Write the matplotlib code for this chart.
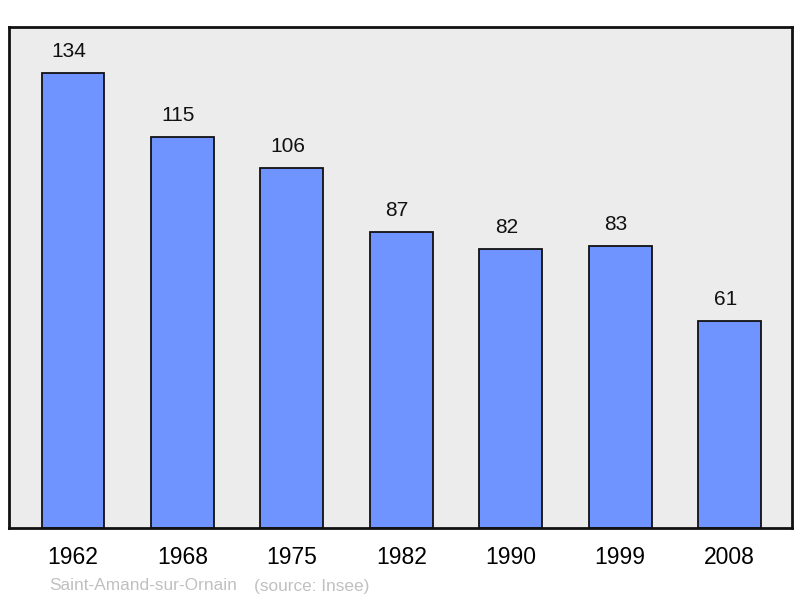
import matplotlib
matplotlib.use("Agg")
import matplotlib.pyplot as plt

years = ["1962", "1968", "1975", "1982", "1990", "1999", "2008"]
population = [134, 115, 106, 87, 82, 83, 61]
commune = "Saint-Amand-sur-Ornain"
source = "(source: Insee)"

plt.rcParams['font.family'] = ['Liberation Sans', 'DejaVu Sans']

fig = plt.figure(figsize=(8, 5.98), dpi=100)
ax = fig.add_axes([9/800, 1-528/598, 783/800, 501/598])
ax.set_facecolor('#ececec')
x = list(range(len(years)))
ax.bar(x, population, width=0.575, color='#7094ff', edgecolor='#111111', linewidth=1.3, zorder=2)
for xi, v in zip(x, population):
    ax.annotate(str(v), (xi, v), xytext=(-3, 15.5), textcoords='offset points',
                ha='center', va='center', fontsize=15, color='#111111')
ax.set_xlim(-0.585, 6.57)
ax.set_ylim(0, 147.5)
ax.set_yticks([])
ax.set_xticks(x)
ax.set_xticklabels(years, fontsize=16.5)
ax.tick_params(axis='x', length=0, pad=13)
for s in ax.spines.values():
    s.set_linewidth(2)
    s.set_color('#111111')
fig.text(49/800, 1-586/598, commune, fontsize=12.4, color='#c0c0c0', va='center', ha='left')
fig.text(254/800, 1-586/598, source, fontsize=12.4, color='#c0c0c0', va='center', ha='left')
fig.savefig('out.png', dpi=100)
